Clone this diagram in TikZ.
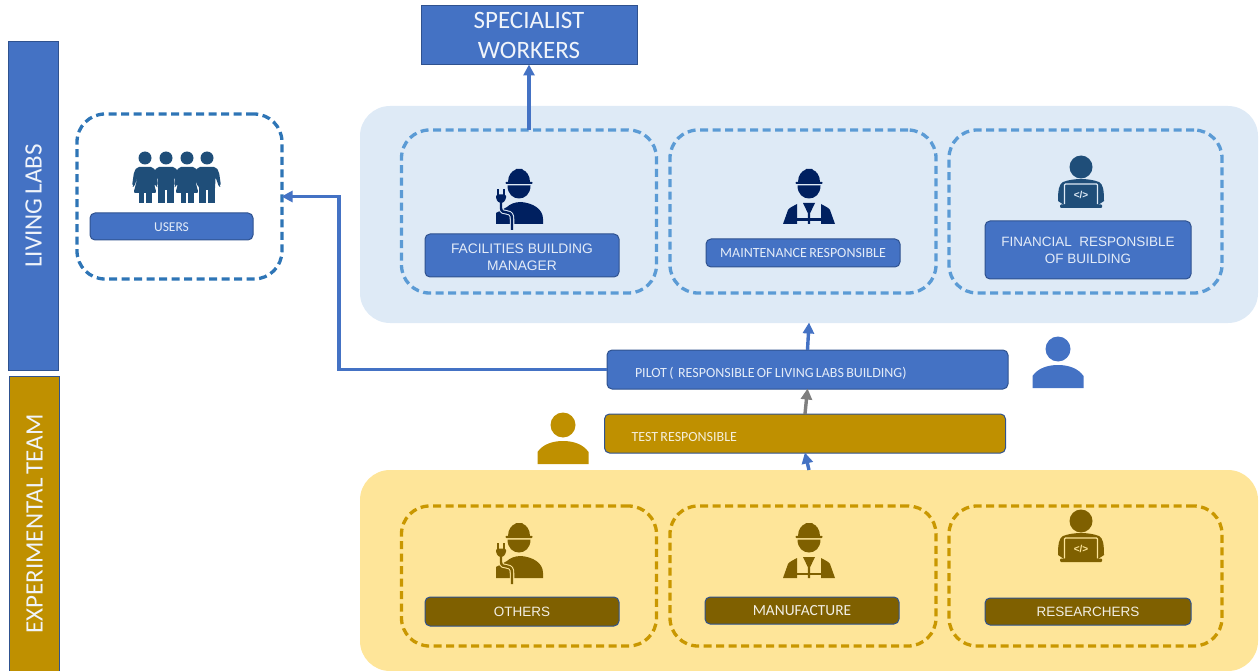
\documentclass[tikz,border=0pt]{standalone}
\usepackage{fontspec}
\setmainfont{Carlito}[WordSpace=0.72]
\newfontfamily\arialf{Liberation Sans}
\usetikzlibrary{arrows.meta}
\definecolor{blu}{HTML}{4472C4}
\definecolor{bluedge}{HTML}{2F528F}
\definecolor{panelb}{HTML}{DEEAF6}
\definecolor{dashb}{HTML}{5B9BD5}
\definecolor{dashu}{HTML}{2E75B6}
\definecolor{gold}{HTML}{BF9000}
\definecolor{dashg}{HTML}{C99700}
\definecolor{panely}{HTML}{FEE599}
\definecolor{brownd}{HTML}{7F6000}
\definecolor{navy}{HTML}{002060}
\definecolor{steel}{HTML}{1F4E79}
\definecolor{txtb}{HTML}{E4ECF8}
\definecolor{arrgray}{HTML}{7F7F7F}
\tikzset{
  panelbox/.style={rounded corners=30pt,inner sep=0,outer sep=0},
  dashbox/.style={draw,line width=3.3pt,dash pattern=on 8pt off 4.5pt,rounded corners=28pt,inner sep=0,outer sep=0},
  labelbox/.style={draw=bluedge,line width=1pt,fill=blu,rounded corners=5pt,inner sep=0,outer sep=0,text=txtb,align=center},
  darkbox/.style={draw=bluedge,line width=1pt,fill=brownd,rounded corners=5pt,inner sep=0,outer sep=0,text=white!90!brownd,align=center},
  sidebox/.style={draw=bluedge,line width=1pt,inner sep=0,outer sep=0,text=white!92!blu,align=center},
  flow/.style={line width=3.4pt,-{Triangle[length=11pt,width=11pt]},shorten >=-0.5pt},
}
\newcommand{\helmethead}[4]{%
  \begin{scope}[shift={(#1,#2)}]
    \fill[#3] (-11,-13) .. controls (-11,-20) and (-7,-24) .. (-4,-25) -- (-3,-26) -- (3,-26) -- (4,-25) .. controls (7,-24) and (11,-20) .. (11,-13) -- cycle;
    \fill[#3,rounded corners=0.8pt] (-13.5,-13.2) rectangle (13.5,-11);
    \fill[#3] (-11.5,-9.5) .. controls (-11.5,-1) and (-6,3.5) .. (0,3.5) .. controls (6,3.5) and (11.5,-1) .. (11.5,-9.5) -- cycle;
  \end{scope}}
\newcommand{\plugworker}[4]{%
  \helmethead{#1}{#2}{#3}{#4}
  \begin{scope}[shift={(#1,#2)}]
    \fill[#3] (-23,29) -- (-23,18) -- (-12,12) .. controls (-9,9) and (-4,7) .. (2,7) .. controls (14,8) and (24,14) .. (24,24) -- (24,29) -- cycle;
    \draw[#4,line width=4.5pt] (-18,6) -- (-18,13) .. controls (-18,17) and (-15,17) .. (-12,17.5) .. controls (-8,18) and (-7,20) .. (-7,24) -- (-7,35);
    \draw[#3,line width=2.4pt] (-18,6) -- (-18,13) .. controls (-18,17) and (-15,17) .. (-12,17.5) .. controls (-8,18) and (-7,20) .. (-7,24) -- (-7,35);
    \fill[#3,rounded corners=1.5pt] (-23,-0.5) -- (-13,-0.5) -- (-13,4) -- (-16,8) -- (-20,8) -- (-23,4) -- cycle;
    \fill[#3] (-22,-6) rectangle (-19.8,1);
    \fill[#3] (-16.2,-6) rectangle (-14,1);
  \end{scope}}
\newcommand{\vestworker}[4]{%
  \helmethead{#1}{#2}{#3}{#4}
  \begin{scope}[shift={(#1,#2)}]
    \fill[#3] (-26,29) -- (-21,15) .. controls (-19,12) and (-15,11) .. (-12,9) -- (-12,29) -- cycle;
    \fill[#3] (26,29) -- (21,15) .. controls (19,12) and (15,11) .. (12,9) -- (12,29) -- cycle;
    \fill[#3] (-6,8) -- (6,8) -- (1.2,18) -- (1.2,29) -- (-1.2,29) -- (-1.2,18) -- cycle;
    \fill[#3] (-13,23.5) rectangle (13,26);
  \end{scope}}
\newcommand{\laptopguy}[4]{%
  \begin{scope}[shift={(#1,#2)}]
    \fill[#3] (0,-23) circle[radius=11.5pt];
    \fill[#3] (-23,11) .. controls (-23,0) and (-22,-6) .. (-18,-8) .. controls (-13,-10) and (-6,-11) .. (0,-11) .. controls (6,-11) and (13,-10) .. (18,-8) .. controls (22,-6) and (23,0) .. (23,11) -- (17,15) -- (-17,15) -- cycle;
    \draw[#4,line width=1.1pt,rounded corners=1pt] (-16.5,14.5) -- (-16.5,-6) -- (16.5,-6) -- (16.5,14.5);
    \fill[#3,rounded corners=1pt] (-21,14.5) rectangle (21,18);
    \node[text=#4,font=\arialf\bfseries\fontsize{10}{10}\selectfont,inner sep=0] at (0,4.5) {</>};
  \end{scope}}
\newcommand{\personicon}[3]{%
  \begin{scope}[shift={(#1,#2)}]
    \fill[#3] (0,0) circle[radius=12.5pt];
    \fill[#3] (-25.5,39) -- (-25.5,27) .. controls (-20,19) and (-10,16) .. (0,16) .. controls (10,16) and (20,19) .. (25.5,27) -- (25.5,39) -- cycle;
  \end{scope}}
\newcommand{\headfig}[1]{\fill[steel] (#1,158) circle[radius=6.5pt];}
\newcommand{\girlfig}[1]{%
  \headfig{#1}
  \begin{scope}[shift={(#1,0)}]
    \fill[steel,rounded corners=2pt] (-8,167) -- (8,167) -- (11,172) -- (13,186) -- (11,187) -- (7,176) -- (11.5,193) -- (-11.5,193) -- (-7,176) -- (-11,187) -- (-13,186) -- (-11,172) -- cycle;
    \fill[steel] (-6.5,192) rectangle (-1,203);
    \fill[steel] (1,192) rectangle (6.5,203);
  \end{scope}}
\newcommand{\boyfig}[1]{%
  \headfig{#1}
  \begin{scope}[shift={(#1,0)}]
    \fill[steel,rounded corners=2pt] (-9,167) -- (9,167) -- (12,172) -- (14,186) -- (12,187) -- (8.5,177) -- (8,190) -- (-8,190) -- (-8.5,177) -- (-12,187) -- (-14,186) -- (-12,172) -- cycle;
    \fill[steel] (-8,187) rectangle (-1,203);
    \fill[steel] (1,187) rectangle (8,203);
  \end{scope}}
\begin{document}
\begin{tikzpicture}[x=1pt,y=-1pt]
\useasboundingbox (0,0) rectangle (1259,671);
% panels
\node[panelbox,fill=panelb,minimum width=898pt,minimum height=217pt] (toppanel) at (809,214.5) {};
\node[panelbox,fill=panely,minimum width=898pt,minimum height=201pt] (botpanel) at (809,570.5) {};
% side bars
\node[sidebox,fill=blu,minimum width=50pt,minimum height=328pt] (living) at (33.5,206) {\rotatebox{90}{\fontsize{25}{27}\selectfont LIVING LABS}};
\node[sidebox,fill=gold,minimum width=50pt,minimum height=296pt] (exper) at (34.5,524) {\rotatebox{90}{\fontsize{25}{27}\selectfont EXPERIMENTAL TEAM}};
% specialist
\node[sidebox,fill=blu,minimum width=216pt,minimum height=59pt,text=white!92!blu,font=\fontsize{25}{30}\selectfont] (spec) at (529,35.5) {SPECIALIST\\WORKERS};
% dashed groups
\node[dashbox,draw=dashu,minimum width=205pt,minimum height=165pt] (users) at (179.5,196.5) {};
\node[dashbox,draw=dashb,minimum width=255pt,minimum height=163pt] (fac) at (529,211.5) {};
\node[dashbox,draw=dashb,minimum width=266pt,minimum height=163pt] (maint) at (803,211.5) {};
\node[dashbox,draw=dashb,minimum width=273pt,minimum height=163pt] (fin) at (1085.5,211.5) {};
\node[dashbox,draw=dashg,minimum width=255pt,minimum height=140pt] (oth) at (529,576) {};
\node[dashbox,draw=dashg,minimum width=266pt,minimum height=140pt] (manu) at (803,576) {};
\node[dashbox,draw=dashg,minimum width=273pt,minimum height=140pt] (res) at (1085.5,576) {};
% labels
\node[labelbox,minimum width=163pt,minimum height=27pt,font=\fontsize{13.5}{14}\selectfont] (userslab) at (171.5,226.5) {\rule{0pt}{11pt}USERS};
\node[labelbox,minimum width=194pt,minimum height=43pt,font=\arialf\fontsize{13.8}{17}\selectfont] (faclab) at (522,255.5) {\rule{0pt}{13pt}FACILITIES BUILDING\\MANAGER};
\node[labelbox,minimum width=194pt,minimum height=28pt,font=\fontsize{14}{15}\selectfont] (mainlab) at (803,253) {MAINTENANCE RESPONSIBLE};
\node[labelbox,minimum width=206pt,minimum height=58pt,font=\arialf\fontsize{13.5}{17}\selectfont] (finlab) at (1088,250) {FINANCIAL\ \ RESPONSIBLE\\OF BUILDING};
\node[darkbox,minimum width=194pt,minimum height=29pt,font=\arialf\fontsize{13.5}{15}\selectfont] (othlab) at (522,611.5) {OTHERS};
\node[darkbox,minimum width=194pt,minimum height=27pt,font=\fontsize{15.4}{16}\selectfont] (manlab) at (802,610.5) {MANUFACTURE};
\node[darkbox,minimum width=206pt,minimum height=27pt,font=\arialf\fontsize{13.5}{15}\selectfont] (reslab) at (1088,611.5) {RESEARCHERS};
% pilot / test
\node[labelbox,minimum width=401pt,minimum height=39pt,inner xsep=28pt,text width=345pt,align=flush left,font=\fontsize{14}{15}\selectfont] (pilot) at (807.5,369.5) {\rule{0pt}{17pt}PILOT (\ \ RESPONSIBLE OF LIVING LABS BUILDING)};
\node[draw=bluedge,line width=1pt,fill=gold,rounded corners=5pt,outer sep=0,text=white!85!gold,minimum width=401pt,minimum height=39pt,inner xsep=27pt,inner ysep=0,text width=347pt,align=flush left,font=\fontsize{14}{15}\selectfont] (test) at (805,433.5) {\rule{0pt}{17pt}TEST RESPONSIBLE};
% connectors
\coordinate (bend) at (339,300);
\draw[flow,draw=blu] (fac.north) -- (spec.south);
\draw[flow,draw=blu] (pilot.west) -- (bend |- pilot.west) -- (bend |- users.east) -- (users.east);
\draw[flow,draw=blu] (pilot.north) -- (toppanel.south);
\draw[flow,draw=arrgray] (test.north) -- (pilot.south);
\draw[flow,draw=blu] (botpanel.north) -- (test.south);
% icons
\girlfig{145}\boyfig{166}\girlfig{187}\boyfig{207}
\plugworker{519}{195}{navy}{panelb}
\vestworker{809}{195}{navy}{panelb}
\laptopguy{1081}{190}{steel}{panelb}
\plugworker{519}{549}{brownd}{panely}
\vestworker{809}{549}{brownd}{panely}
\laptopguy{1081}{544}{brownd}{panely}
\personicon{1058}{349}{blu}
\personicon{563}{425}{gold}
\end{tikzpicture}
\end{document}
